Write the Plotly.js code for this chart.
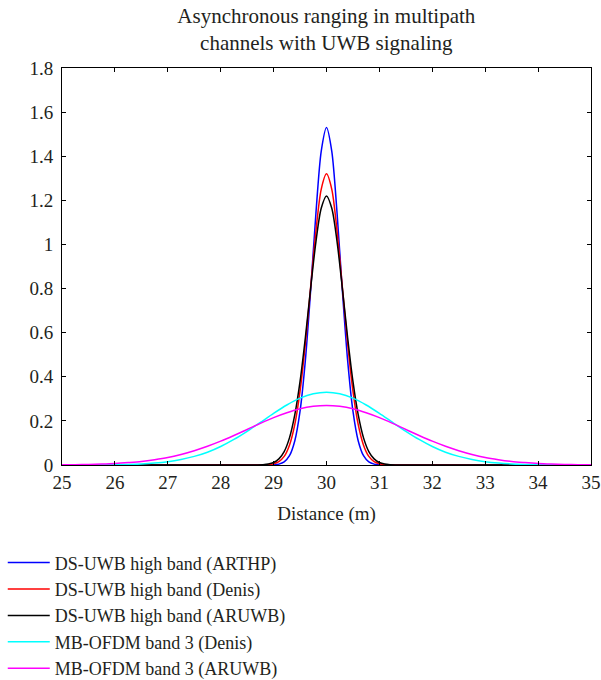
<!DOCTYPE html>
<html>
<head>
<meta charset="utf-8">
<script src="https://cdn.plot.ly/plotly-3.0.1.min.js"></script>
<style>html,body{margin:0;padding:0;background:#fff;}#chart{width:601px;height:680px;}</style>
</head>
<body>
<div id="chart"></div>
<script>
// Distance samples (m)
var xNarrow = [25, 28.6, 28.7, 28.8, 28.9, 29.0, 29.1, 29.2, 29.3, 29.4, 29.5, 29.6, 29.7, 29.8, 29.9, 30.0,
               30.1, 30.2, 30.3, 30.4, 30.5, 30.6, 30.7, 30.8, 30.9, 31.0, 31.1, 31.2, 31.3, 31.4, 35];
var xWide = [25, 25.25, 25.5, 25.75, 26, 26.25, 26.5, 26.75, 27, 27.25, 27.5, 27.75, 28, 28.25, 28.5, 28.75,
             29, 29.25, 29.5, 29.75, 30, 30.25, 30.5, 30.75, 31, 31.25, 31.5, 31.75, 32, 32.25, 32.5, 32.75,
             33, 33.25, 33.5, 33.75, 34, 34.25, 34.5, 34.75, 35];

// DS-UWB high band (ARTHP)
var dsArthp = [0, 0, 0, 0, 0, 0.001, 0.004, 0.014, 0.042, 0.109, 0.244, 0.473, 0.790, 1.141, 1.422, 1.53,
               1.422, 1.141, 0.790, 0.473, 0.244, 0.109, 0.042, 0.014, 0.004, 0.001, 0, 0, 0, 0, 0];
// DS-UWB high band (Denis)
var dsDenis = [0, 0, 0.0001, 0.0005, 0.0017, 0.0055, 0.0155, 0.039, 0.090, 0.183, 0.335, 0.549, 0.806, 1.060, 1.250, 1.32,
               1.250, 1.060, 0.806, 0.549, 0.335, 0.183, 0.090, 0.039, 0.0155, 0.0055, 0.0017, 0.0005, 0.0001, 0, 0];
// DS-UWB high band (ARUWB)
var dsAruwb = [0, 0.0001, 0.0005, 0.0015, 0.0043, 0.0114, 0.0277, 0.061, 0.123, 0.227, 0.379, 0.577, 0.801, 1.012, 1.164, 1.22,
               1.164, 1.012, 0.801, 0.577, 0.379, 0.227, 0.123, 0.061, 0.0277, 0.0114, 0.0043, 0.0015, 0.0005, 0.0001, 0];
// MB-OFDM band 3 (Denis)
var mbDenis = [0, 0.0001, 0.0003, 0.0007, 0.0014, 0.0027, 0.005, 0.0089, 0.015, 0.025, 0.039, 0.058, 0.084, 0.116, 0.153, 0.193,
               0.234, 0.272, 0.303, 0.323, 0.33, 0.323, 0.303, 0.272, 0.234, 0.193, 0.153, 0.116, 0.084, 0.058, 0.039, 0.025,
               0.015, 0.0089, 0.005, 0.0027, 0.0014, 0.0007, 0.0003, 0.0001, 0];
// MB-OFDM band 3 (ARUWB)
var mbAruwb = [0.0009, 0.0015, 0.0026, 0.0043, 0.0069, 0.011, 0.016, 0.024, 0.034, 0.048, 0.065, 0.085, 0.108, 0.134, 0.161, 0.189,
               0.215, 0.237, 0.255, 0.266, 0.27, 0.266, 0.255, 0.237, 0.215, 0.189, 0.161, 0.134, 0.108, 0.085, 0.065, 0.048,
               0.034, 0.024, 0.016, 0.011, 0.0069, 0.0043, 0.0026, 0.0015, 0.0009];

var names = ['DS-UWB high band (ARTHP)', 'DS-UWB high band (Denis)', 'DS-UWB high band (ARUWB)',
             'MB-OFDM band 3 (Denis)', 'MB-OFDM band 3 (ARUWB)'];
var colors = ['#0000ff', '#ff0000', '#000000', '#00ffff', '#ff00ff'];
var xTickVals = [25, 26, 27, 28, 29, 30, 31, 32, 33, 34, 35];
var yTickVals = [0, 0.2, 0.4, 0.6, 0.8, 1, 1.2, 1.4, 1.6, 1.8];
var yTickText = ['0', '0.2', '0.4', '0.6', '0.8', '1', '1.2', '1.4', '1.6', '1.8'];

var series = [[xNarrow, dsArthp], [xNarrow, dsDenis], [xNarrow, dsAruwb], [xWide, mbDenis], [xWide, mbAruwb]];
var traces = series.map(function (s, i) {
  return {
    x: s[0], y: s[1], type: 'scatter', mode: 'lines', name: names[i],
    line: {color: colors[i], width: 1.5, shape: 'spline', smoothing: 0.8}
  };
});

var font = 'Liberation Serif, Times New Roman, serif';
var txt = '#231f20';
var layout = {
  width: 601, height: 680,
  margin: {l: 62, r: 10, t: 68, b: 215, autoexpand: false},
  paper_bgcolor: '#fff', plot_bgcolor: '#fff',
  font: {family: font, size: 19, color: txt},
  title: {text: 'Asynchronous ranging in multipath<br>channels with UWB signaling',
          font: {family: font, size: 21, color: txt}, x: 0.543, xanchor: 'center', y: 0.966, yanchor: 'top'},
  xaxis: {
    range: [25, 35], tickvals: xTickVals, ticks: 'inside', ticklen: 4, tickcolor: '#000',
    showline: true, linecolor: '#000', linewidth: 1, mirror: 'ticks', showgrid: false, zeroline: false,
    tickfont: {family: font, size: 19, color: txt},
    title: {text: 'Distance (m)', font: {family: font, size: 19, color: txt}, standoff: 14}
  },
  yaxis: {
    range: [0, 1.8], tickvals: yTickVals, ticktext: yTickText, ticks: 'inside', ticklen: 4, tickcolor: '#000',
    showline: true, linecolor: '#000', linewidth: 1, mirror: 'ticks', showgrid: false, zeroline: false,
    ticklabelstandoff: 4,
    tickfont: {family: font, size: 19, color: txt}
  },
  showlegend: true,
  legend: {
    x: -0.112, xanchor: 'left', y: -0.2, yanchor: 'top', orientation: 'v',
    itemwidth: 42,
    font: {family: font, size: 18, color: txt},
    bgcolor: 'rgba(0,0,0,0)', borderwidth: 0
  }
};

Plotly.newPlot('chart', traces, layout, {displayModeBar: false, staticPlot: true});
</script>
</body>
</html>
